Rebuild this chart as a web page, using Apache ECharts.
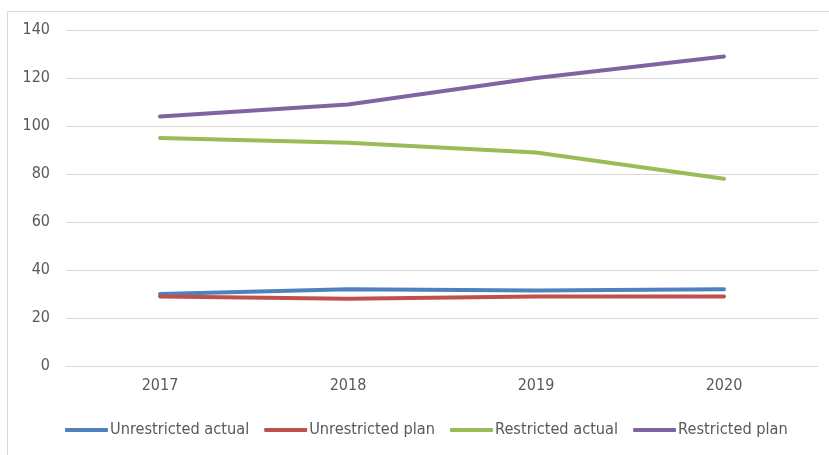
<!DOCTYPE html>
<html><head><meta charset="utf-8">
<script src="https://cdn.jsdelivr.net/npm/echarts@6/dist/echarts.min.js"></script>
<style>html,body{margin:0;padding:0;background:#fff}#c{width:829px;height:455px}</style>
</head><body><div id="c"></div>
<script>
const categories = ['2017','2018','2019','2020'];
const seriesNames = ['Unrestricted actual','Unrestricted plan','Restricted actual','Restricted plan'];
const unrestrictedActual = [30, 32, 31.5, 32];
const unrestrictedPlan = [29, 28, 29, 29];
const restrictedActual = [95, 93, 89, 78];
const restrictedPlan = [104, 109, 120, 129];
const colors = ['#4F81BD','#C0504D','#9BBB59','#8064A2'];
const font = '"Liberation Sans Narrow", "DejaVu Sans Condensed", sans-serif';
const chart = echarts.init(document.getElementById('c'), null, {renderer:'canvas'});
const dataSets = [unrestrictedActual, unrestrictedPlan, restrictedActual, restrictedPlan];
chart.setOption({
  animation:false,
  color: colors,
  graphic:[{type:'rect', shape:{x:7.5,y:11.5,width:840,height:470}, style:{fill:'none', stroke:'#d9d9d9', lineWidth:1}, silent:true}],
  grid:{left:66, right:11, top:30, bottom:89},
  legend:{
    bottom:12, left:60, itemWidth:43, itemHeight:4, itemGap:15,
    icon:'roundRect',
    textStyle:{fontFamily:font, fontSize:16.2, color:'#595959', padding:[0,0,0,-3]},
    data: seriesNames
  },
  xAxis:{type:'category', data:categories, boundaryGap:true,
    axisLine:{show:true, lineStyle:{color:'#d9d9d9'}}, axisTick:{show:false},
    axisLabel:{fontFamily:font, fontSize:16, color:'#595959', margin:12}},
  yAxis:{type:'value', min:0, max:140, interval:20,
    axisLine:{show:false}, axisTick:{show:false},
    splitLine:{lineStyle:{color:'#d9d9d9', width:1}},
    axisLabel:{fontFamily:font, fontSize:16, color:'#595959', margin:16}},
  series: seriesNames.map((n,i)=>({
    name:n, type:'line', data:dataSets[i], symbol:'none',
    lineStyle:{width:4, color:colors[i], cap:'round', join:'round'}
  }))
});
</script></body></html>
